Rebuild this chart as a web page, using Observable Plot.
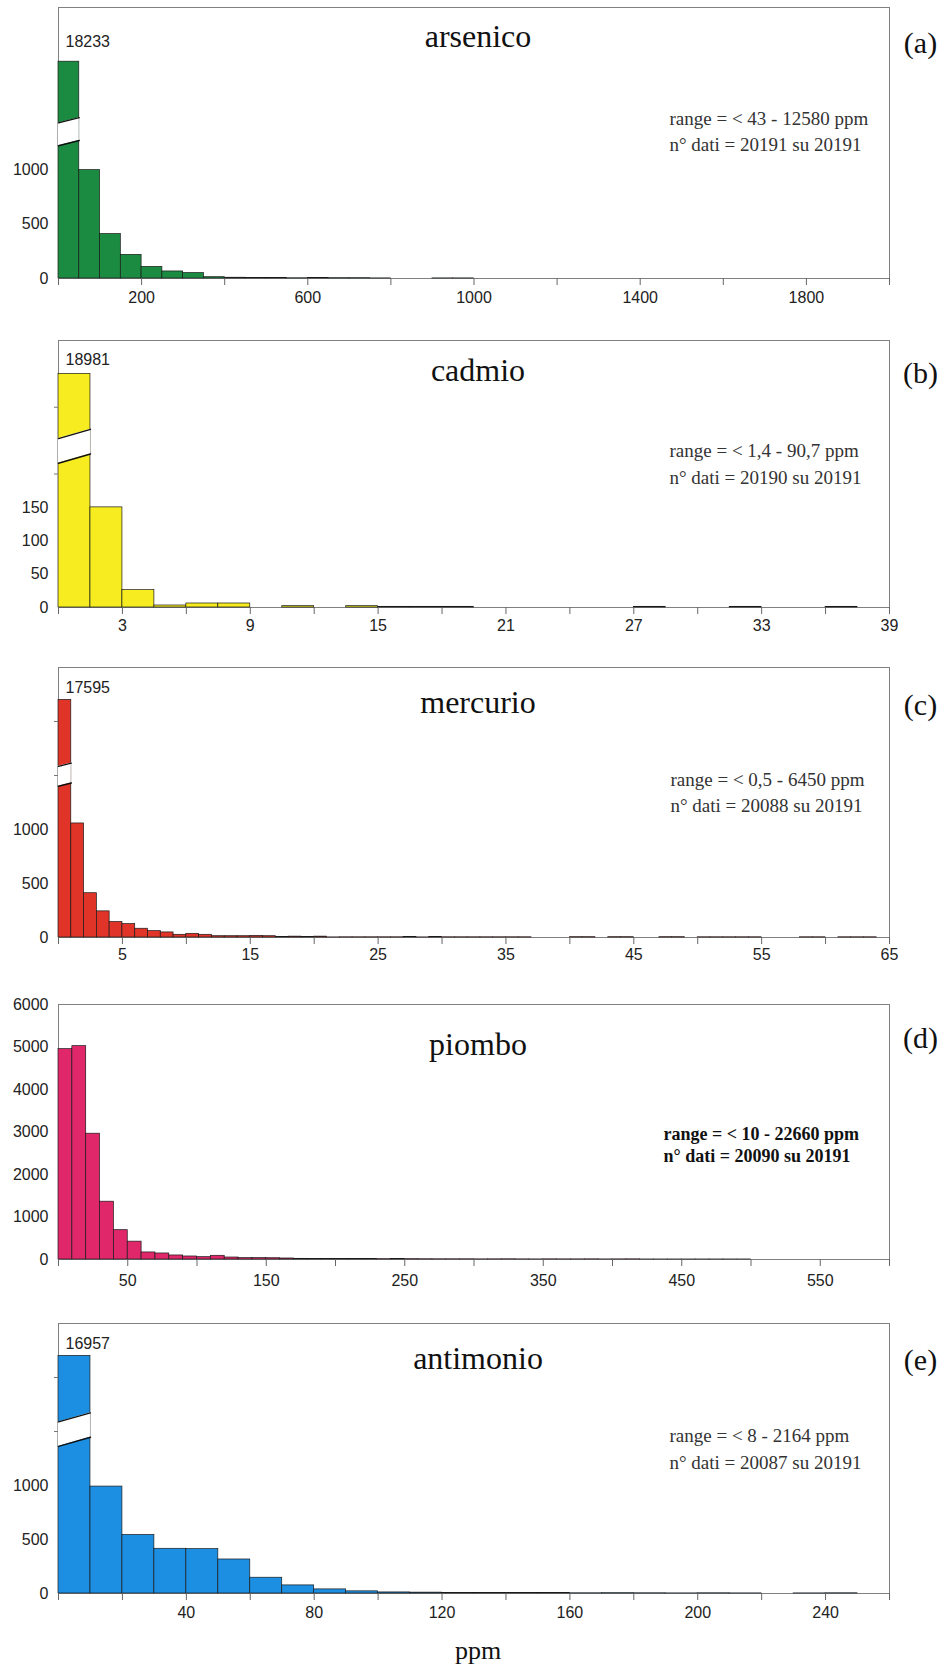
<!DOCTYPE html>
<html>
<head>
<meta charset="utf-8">
<script src="https://cdn.jsdelivr.net/npm/d3@7"></script>
<script src="https://cdn.jsdelivr.net/npm/@observablehq/plot@0.6"></script>
<style>
  body { margin: 0; background: #fff; }
  #root { position: relative; width: 942px; height: 1671px; overflow: hidden; background: #fff; }
  #root svg { position: absolute; left: 0; }
</style>
</head>
<body>
<div id="root"></div>
<script>
// ---------------- DATA ----------------
const titles = ["arsenico", "cadmio", "mercurio", "piombo", "antimonio"];
const letters = ["(a)", "(b)", "(c)", "(d)", "(e)"];
const rangeLines = [
  "range = < 43 - 12580 ppm",
  "range = < 1,4 - 90,7 ppm",
  "range = < 0,5 - 6450 ppm",
  "range = < 10 - 22660 ppm",
  "range = < 8 - 2164 ppm"
];
const datiLines = [
  "n° dati = 20191 su 20191",
  "n° dati = 20190 su 20191",
  "n° dati = 20088 su 20191",
  "n° dati = 20090 su 20191",
  "n° dati = 20087 su 20191"
];
const binWidths = [50, 1.5, 1, 10, 10];

// counts per bin (ppm classes)
const arsenicoCounts = [18233, 1000, 410, 218, 107, 65, 50, 12, 7, 4, 4, 2, 4, 3, 3, 1, 0, 0, 1, 1,
  0, 0, 0, 0, 0, 0, 0, 0, 0, 0, 0, 0, 0, 0, 0, 0, 0, 0, 0, 0];
const cadmioCounts = [18981, 150, 26, 3, 6, 6, 0, 2, 0, 2, 1, 1, 1, 0, 0, 0, 0, 0, 1, 0, 0, 1, 0, 0, 1, 0];
const mercurioCounts = [17595, 1056, 410, 242, 143, 124, 81, 59, 47, 25, 34, 25, 12, 12, 12, 15, 12, 4, 8, 5,
  8, 1, 2, 2, 2, 2, 2, 5, 1, 6, 2, 2, 2, 2, 2, 2, 2, 0, 0, 0, 3, 3, 0, 3, 3, 0, 0, 3, 3, 0,
  2, 2, 2, 2, 2, 0, 0, 0, 2, 2, 0, 2, 2, 2, 0];
const piomboCounts = [4950, 5020, 2960, 1360, 690, 420, 166, 142, 95, 71, 55, 87, 47, 32, 32, 30, 24, 16, 15, 14,
  12, 10, 12, 8, 10, 8, 6, 5, 5, 5, 3, 4, 5, 3, 2, 4, 3, 3, 4, 2, 3, 4, 1, 1, 1, 1, 1, 1, 1, 1,
  0, 0, 0, 0, 0, 0, 0, 0, 0, 0];
const antimonioCounts = [16957, 990, 542, 414, 411, 315, 146, 75, 38, 20, 10, 8, 6, 4, 6, 4, 2, 3, 2, 1, 2, 1, 0, 1, 2, 0];
const allCounts = [arsenicoCounts, cadmioCounts, mercurioCounts, piomboCounts, antimonioCounts];

// scales & tick labels
const xMax = [2000, 39, 65, 600, 260];
const yMax = [2500, 400, 2500, 6000, 2500];
const xTickValues = [
  [0, 200, 400, 600, 800, 1000, 1200, 1400, 1600, 1800, 2000],
  [0, 3, 6, 9, 12, 15, 18, 21, 24, 27, 30, 33, 36, 39],
  [0, 5, 10, 15, 20, 25, 30, 35, 40, 45, 50, 55, 60, 65],
  [0, 50, 100, 150, 200, 250, 300, 350, 400, 450, 500, 550, 600],
  [0, 20, 40, 60, 80, 100, 120, 140, 160, 180, 200, 220, 240, 260]
];
const xLabelValues = [
  [200, 600, 1000, 1400, 1800],
  [3, 9, 15, 21, 27, 33, 39],
  [5, 15, 25, 35, 45, 55, 65],
  [50, 150, 250, 350, 450, 550],
  [40, 80, 120, 160, 200, 240]
];
const yLabelValues = [
  [0, 500, 1000],
  [0, 50, 100, 150],
  [0, 500, 1000],
  [0, 1000, 2000, 3000, 4000, 5000, 6000],
  [0, 500, 1000]
];
const yHiddenTicks = [[], [200, 300], [1500, 2000], [], [1500, 2000]];
// broken first bar: displayed height, and the white break band [low, high, rise across the bar]
const breakCaps = [2000, 350, 2200, null, 2200];
const breakBands = [[1225, 1435, 48], [216, 253, 14], [1400, 1585, 30], null, [1362, 1588, 85]];

// ---------------- STYLE / LAYOUT ----------------
const colors = ["#1b8b41", "#f6ec1f", "#e03428", "#e0276a", "#1c8fe2"];
const layout = [
  {top: 7,    h: 271, titleDy: 29, letterDy: 36, infoDy: [111, 137.7], infoDx: 611, infoBold: false, labelDy: -20.5, xPad: 6.3},
  {top: 340,  h: 267, titleDy: 30, letterDy: 33, infoDy: [110.4, 137], infoDx: 611, infoBold: false, labelDy: -14, xPad: 5},
  {top: 667,  h: 270, titleDy: 35.5, letterDy: 38, infoDy: [112.4, 138.4], infoDx: 612, infoBold: false, labelDy: -12.7, xPad: 4.5},
  {top: 1004, h: 255, titleDy: 40, letterDy: 34.3, infoDy: [129.7, 151.4], infoDx: 605, infoBold: true, labelDy: 0, xPad: 8},
  {top: 1323, h: 270, titleDy: 35, letterDy: 37, infoDy: [112.4, 139], infoDx: 611, infoBold: false, labelDy: -12.5, xPad: 6.5}
];
const MT = 8, ML = 58, MR = 53;

const root = document.getElementById("root");

titles.forEach((title, k) => {
  const L = layout[k];
  const bw = binWidths[k];
  const cap = breakCaps[k];
  const counts = allCounts[k];
  const bins = counts.map((c, i) => ({x1: i * bw, x2: (i + 1) * bw, count: c, shown: cap ? Math.min(c, cap) : c}))
    .filter(d => d.count > 0);
  const isLast = k === titles.length - 1;
  const MB = isLast ? 78 : 30;

  const marks = [
    Plot.frame({stroke: "#808080", strokeWidth: 1}),
    Plot.rectY(bins, {x1: "x1", x2: "x2", y: "shown", fill: colors[k], stroke: "#1a1a1a", strokeWidth: 0.7}),
  ];
  if (breakBands[k]) {
    const [lo, hi, rise] = breakBands[k];
    const band = [{x: 0, lo: lo, hi: hi}, {x: bw, lo: lo + rise, hi: hi + rise}];
    marks.push(
      Plot.areaY(band, {x: "x", y1: "lo", y2: "hi", fill: "white"}),
      Plot.line(band, {x: "x", y: "lo", stroke: "#111", strokeWidth: 1.5}),
      Plot.line(band, {x: "x", y: "hi", stroke: "#111", strokeWidth: 1.3})
    );
    marks.push(Plot.text([{x: 0, y: cap, label: String(counts[0])}], {
      x: "x", y: "y", text: "label", textAnchor: "start", lineAnchor: "bottom",
      dx: 7, dy: L.labelDy + 5.5, fontSize: 16, fontFamily: "Liberation Sans", fill: "#222"
    }));
  }
  marks.push(
    Plot.axisY(yLabelValues[k], {tickSize: 0, tickPadding: 10, fontSize: 16, fontFamily: "Liberation Sans",
      label: null, tickFormat: d => String(d)}),
    Plot.axisX(xTickValues[k], {
      tickSize: 7, tickPadding: L.xPad, stroke: "#666", fontSize: 16, fontFamily: "Liberation Sans", label: null,
      tickFormat: d => xLabelValues[k].includes(d) ? String(d) : ""
    }),
    Plot.text([title], {frameAnchor: "top", lineAnchor: "middle", textAnchor: "middle", dx: 4, dy: L.titleDy,
      fontSize: 32, fontFamily: "Liberation Serif", fill: "#111"}),
    Plot.text([letters[k]], {frameAnchor: "top-right", lineAnchor: "middle", textAnchor: "middle", dx: 31, dy: L.letterDy,
      fontSize: 30, fontFamily: "Liberation Serif", fill: "#111"}),
    Plot.text([rangeLines[k]], {frameAnchor: "top-left", lineAnchor: "middle", textAnchor: "start", dx: L.infoDx, dy: L.infoDy[0],
      fontSize: L.infoBold ? 18 : 19, fontWeight: L.infoBold ? "bold" : "normal", fontFamily: "Liberation Serif", fill: L.infoBold ? "#111" : "#333"}),
    Plot.text([datiLines[k]], {frameAnchor: "top-left", lineAnchor: "middle", textAnchor: "start", dx: L.infoDx, dy: L.infoDy[1],
      fontSize: L.infoBold ? 18 : 19, fontWeight: L.infoBold ? "bold" : "normal", fontFamily: "Liberation Serif", fill: L.infoBold ? "#111" : "#333"})
  );
  if (yHiddenTicks[k].length) {
    marks.push(Plot.axisY(yHiddenTicks[k], {tickSize: 4, stroke: "#777", label: null, tickFormat: () => ""}));
  }
  if (isLast) {
    marks.push(Plot.text(["ppm"], {frameAnchor: "bottom", lineAnchor: "middle", textAnchor: "middle", dx: 4, dy: 57,
      fontSize: 26, fontFamily: "Liberation Serif", fill: "#111"}));
  }

  const svg = Plot.plot({
    width: 942,
    height: MT + L.h + MB,
    marginTop: MT, marginBottom: MB, marginLeft: ML, marginRight: MR,
    x: {type: "linear", domain: [0, xMax[k]], axis: null, label: null},
    y: {type: "linear", domain: [0, yMax[k]], axis: null, label: null},
    style: {background: "none", fontFamily: "Liberation Sans", fontSize: "16px", color: "#222", overflow: "visible"},
    marks
  });
  svg.style.top = (L.top - MT) + "px";
  root.appendChild(svg);
});
</script>
</body>
</html>
